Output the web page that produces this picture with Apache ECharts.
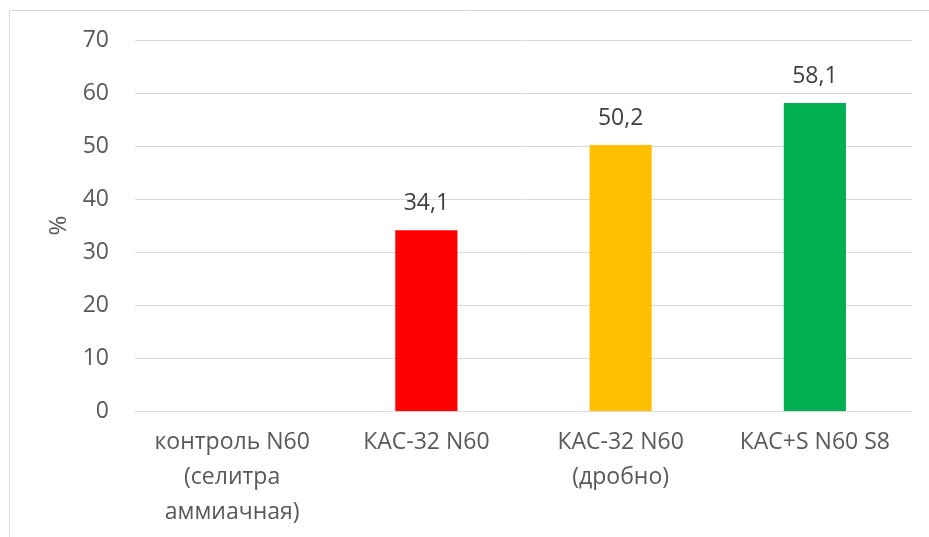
<!DOCTYPE html>
<html><head><meta charset="utf-8">
<script src="https://cdn.jsdelivr.net/npm/echarts@6/dist/echarts.min.js"></script>
<style>html,body{margin:0;padding:0;background:#fff}#c{width:929px;height:537px}</style>
</head><body><div id="c"></div>
<script>
const categories = ['контроль N60\n(селитра\nаммиачная)', 'КАС-32 N60', 'КАС-32 N60\n(дробно)', 'КАС+S N60 S8'];
const values = [null, 34.1, 50.2, 58.1];
const colors = ['#4472c4', '#ff0000', '#ffc000', '#00b050'];
const yTicks = [0, 10, 20, 30, 40, 50, 60, 70];

const chart = echarts.init(document.getElementById('c'));
const font = '"Open Sans", sans-serif';
chart.setOption({
  animation: false,
  graphic: [{type:'rect', shape:{x:9.5, y:10.5, width:1000, height:1000}, style:{fill:'none', stroke:'#d9d9d9', lineWidth:1}, silent:true}],
  grid: {left:135, right:17, top:40, bottom:126},
  xAxis: {
    type:'category', data:categories,
    axisLine:{show:true, lineStyle:{color:'#d9d9d9'}},
    axisTick:{show:false},
    axisLabel:{color:'#595959', fontSize:23, fontFamily:font, lineHeight:35, margin:14, interval:0}
  },
  yAxis: {
    type:'value', min:yTicks[0], max:yTicks[yTicks.length-1], interval:10,
    name:'%', nameLocation:'middle', nameGap:64, nameRotate:90,
    nameTextStyle:{color:'#595959', fontSize:24, fontFamily:font},
    axisLine:{show:false}, axisTick:{show:false},
    axisLabel:{color:'#595959', fontSize:23, fontFamily:font, margin:26},
    splitLine:{lineStyle:{color:'#d9d9d9', width:1}}
  },
  series: [{
    type:'bar', barWidth:'32%',
    data: values.map((v,i)=>({value:v, itemStyle:{color:colors[i]}})),
    label:{show:true, position:'top', distance:15, color:'#404040', fontSize:23, fontFamily:font,
      formatter:p=>p.value==null?'':String(p.value).replace('.',',')}
  }]
});
</script></body></html>
